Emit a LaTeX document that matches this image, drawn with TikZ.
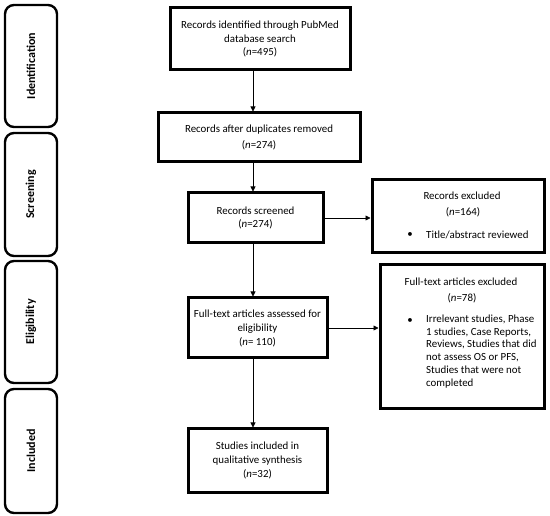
\documentclass[tikz,border=0pt]{standalone}
\usepackage{fontspec}
\setmainfont{Carlito}
\usetikzlibrary{arrows.meta}
\begin{document}
\begin{tikzpicture}[x=1pt,y=-1pt,
  phase/.style={draw, line width=2.4pt, rounded corners=9pt, inner sep=0pt},
  phasetext/.style={rotate=90, font=\fontsize{12}{14}\selectfont\bfseries},
  mainbox/.style={draw, line width=3pt, inner sep=0pt, align=center, font=\fontsize{10.9}{13.6}\selectfont},
  exbox/.style={draw, line width=3pt, inner sep=0pt},
  txt/.style={inner sep=0pt, align=center, font=\fontsize{10.9}{13.5}\selectfont},
  ltxt/.style={inner sep=0pt, align=left, font=\fontsize{10.9}{12.8}\selectfont},
  arr/.style={line width=0.8pt, -{Triangle[length=5pt,width=5pt]}}]
\useasboundingbox (0,0) rectangle (550,516);
% phase labels
\node[phase, minimum width=52pt, minimum height=122pt] (p1) at (31,66) {};
\node[phasetext] (p1t) at (p1) {Identification};
\node[phase, minimum width=52pt, minimum height=123pt] (p2) at (31,194.5) {};
\node[phasetext] (p2t) at (p2) {Screening};
\node[phase, minimum width=52pt, minimum height=122pt] (p3) at (31,322) {};
\node[phasetext] (p3t) at (p3) {Eligibility};
\node[phase, minimum width=52pt, minimum height=124pt] (p4) at (31,451) {};
\node[phasetext] (p4t) at (p4) {Included};
% main boxes
\node[mainbox, minimum width=180pt, minimum height=62pt] (b1) at (260,39)
  {Records identified through PubMed\\database search\\(\textit{n}=495)};
\node[mainbox, minimum width=202pt, minimum height=49pt, font=\fontsize{10.9}{15.7}\selectfont] (b2) at (259,137.5)
  {Records after duplicates removed\\(\textit{n}=274)};
\node[mainbox, minimum width=135pt, minimum height=50pt] (b3) at (255.5,218)
  {Records screened\\(\textit{n}=274)};
\node[mainbox, minimum width=139pt, minimum height=60pt, font=\fontsize{10.9}{14}\selectfont] (b4) at (257.5,328)
  {Full-text articles assessed for\\eligibility\\(\textit{n}= 110)};
\node[mainbox, minimum width=139pt, minimum height=63pt] (b5) at (257.5,460.5)
  {Studies included in\\qualitative synthesis\\(\textit{n}=32)};
% excluded boxes
\node[exbox, minimum width=172pt, minimum height=73pt] (e1) at (458,216.5) {};
\node[txt] (e1a) at (462,196) {Records excluded};
\node[txt] (e1b) at (463,212) {(\textit{n}=164)};
\node[txt] (e1c) at (410,235) {\textbullet};
\node[ltxt, anchor=west] (e1d) at (426,235) {Title/abstract reviewed};
\node[exbox, minimum width=164pt, minimum height=144pt] (e2) at (462,337) {};
\node[txt] (e2a) at (461,282) {Full-text articles excluded};
\node[txt] (e2b) at (462,298) {(\textit{n}=78)};
\node[txt] (e2c) at (410,321) {\textbullet};
\node[ltxt, anchor=north west] (e2d) at (426,314.5) {Irrelevant studies, Phase\\1 studies, Case Reports,\\Reviews, Studies that did\\not assess OS or PFS,\\Studies that were not\\completed};
% arrows
\coordinate (ax) at (253,0);
\draw[arr] (b1.south -| ax) -- (b2.north -| ax);
\draw[arr] (b2.south -| ax) -- (b3.north -| ax);
\draw[arr] (b3.south -| ax) -- (b4.north -| ax);
\draw[arr] (b4.south -| ax) -- (b5.north -| ax);
\draw[arr] (b3.east) -- (b3.east -| e1.west);
\draw[arr] (b4.east) -- (b4.east -| e2.west);
\end{tikzpicture}
\end{document}
